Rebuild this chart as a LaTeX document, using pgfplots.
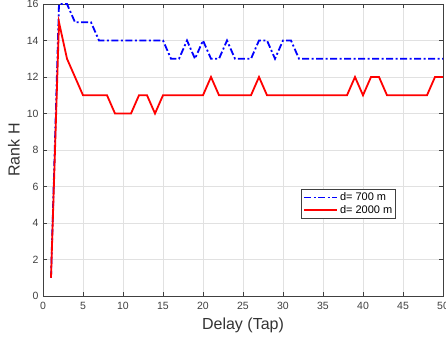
\documentclass[border=0pt]{standalone}
\usepackage{pgfplots}
\pgfplotsset{compat=1.18}
\usepackage{fontspec}
\setmainfont{Liberation Sans}
\definecolor{tickgray}{RGB}{64,64,64}
\definecolor{gridgray}{RGB}{225,225,225}
\begin{document}
\begin{tikzpicture}
\useasboundingbox (-43pt,-47pt) rectangle (403pt,296pt);
\begin{axis}[
  scale only axis,
  width=400pt, height=292pt,
  xmin=0, xmax=50, ymin=0, ymax=16,
  xtick distance=5, ytick distance=2,
  grid=major,
  major grid style={gridgray, line width=0.6pt},
  axis line style={tickgray, line width=0.8pt},
  major tick style={tickgray, line width=0.6pt},
  major tick length=4pt,
  tick align=inside,
  ticklabel style={font=\fontsize{10.5}{12}\selectfont, text=tickgray},
  /pgf/number format/assume math mode=true,
  xticklabel style={yshift=-3pt},
  yticklabel style={xshift=-1pt},
  xlabel={Delay (Tap)}, ylabel={Rank H},
  label style={font=\fontsize{16}{18}\selectfont, text=tickgray!80!black},
  xlabel style={at={([yshift=-29pt]axis description cs:0.5,0)}, anchor=center},
  ylabel style={at={([xshift=-29pt]axis description cs:0,0.5)}, anchor=center},
  legend style={at={(axis cs:32.3,5.86)}, anchor=north west,
    font=\fontsize{11}{13}\selectfont, draw=tickgray, line width=0.6pt,
    fill=white, inner sep=1.5pt, row sep=-1pt, cells={anchor=west}},
  legend image code/.code={\draw[#1] plot coordinates {(0pt,0pt) (16pt,0pt) (33pt,0pt)};},
]
\addplot[blue, line width=1.8pt, dash pattern=on 7pt off 2.5pt on 2pt off 2.5pt] coordinates {
(1,1)(2,16)(3,16)(4,15)(5,15)(6,15)(7,14)(8,14)(9,14)(10,14)(11,14)(12,14)(13,14)(14,14)(15,14)
(16,13)(17,13)(18,14)(19,13)(20,14)(21,13)(22,13)(23,14)(24,13)(25,13)(26,13)(27,14)(28,14)
(29,13)(30,14)(31,14)(32,13)(33,13)(34,13)(35,13)(36,13)(37,13)(38,13)(39,13)(40,13)(41,13)
(42,13)(43,13)(44,13)(45,13)(46,13)(47,13)(48,13)(49,13)(50,13)};
\addlegendentry{d= 700 m}
\addplot[red, line width=1.8pt] coordinates {
(1,1)(2,15)(3,13)(4,12)(5,11)(6,11)(7,11)(8,11)(9,10)(10,10)(11,10)(12,11)(13,11)(14,10)(15,11)
(16,11)(17,11)(18,11)(19,11)(20,11)(21,12)(22,11)(23,11)(24,11)(25,11)(26,11)(27,12)(28,11)
(29,11)(30,11)(31,11)(32,11)(33,11)(34,11)(35,11)(36,11)(37,11)(38,11)(39,12)(40,11)(41,12)
(42,12)(43,11)(44,11)(45,11)(46,11)(47,11)(48,11)(49,12)(50,12)};
\addlegendentry{d= 2000 m}
\end{axis}
\end{tikzpicture}
\end{document}
